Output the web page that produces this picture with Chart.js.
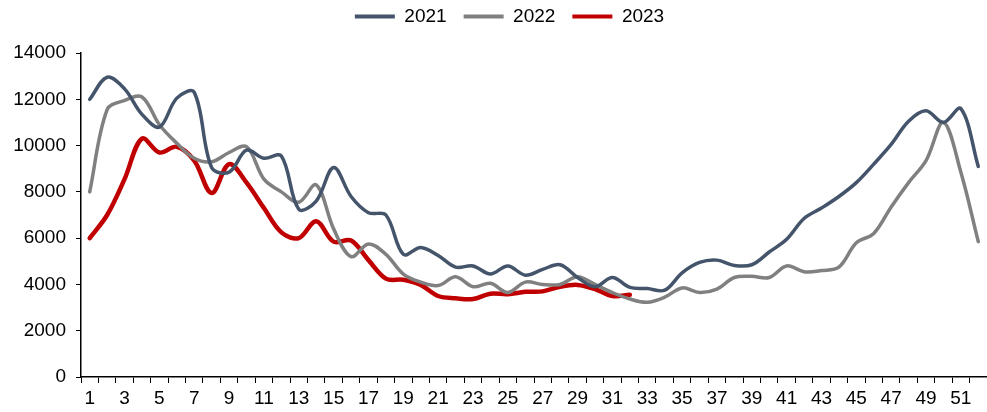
<!DOCTYPE html>
<html>
<head>
<meta charset="utf-8">
<script src="https://cdn.jsdelivr.net/npm/chart.js@4"></script>
<style>
  html, body { margin: 0; padding: 0; background: #fff; }
  #wrap { width: 987px; height: 412px; }
</style>
</head>
<body>
<div id="wrap"><canvas id="line-chart" width="987" height="412"></canvas></div>
<script>
// weeks 1..52
const weeks = Array.from({ length: 52 }, (_, i) => String(i + 1));

const values2021 = [
  12000, 12950, 12450, 11350, 10800, 12050, 12300, 9050, 8850, 9800,
  9450, 9550, 7250, 7600, 9050, 7800, 7100, 7000, 5300, 5600,
  5250, 4750, 4800, 4450, 4800, 4400, 4650, 4850, 4300, 3900,
  4300, 3870, 3820, 3750, 4500, 4950, 5050, 4820, 4850, 5400,
  5950, 6850, 7300, 7800, 8400, 9200, 10050, 11050, 11500, 11000,
  11600, 9100
];

const values2022 = [
  8000, 11550, 11950, 12100, 10900, 10100, 9450, 9300, 9700, 9950,
  8550, 8000, 7550, 8300, 6400, 5200, 5750, 5300, 4450, 4100,
  3950, 4330, 3900, 4050, 3650, 4100, 4000, 4000, 4330, 4000,
  3650, 3370, 3230, 3450, 3850, 3650, 3800, 4300, 4350, 4300,
  4800, 4550, 4600, 4750, 5800, 6200, 7350, 8400, 9350, 11000,
  8850, 5850
];

const values2023 = [
  6000, 7000, 8550, 10300, 9700, 9950, 9350, 7950, 9200, 8400,
  7300, 6250, 6000, 6730, 5850, 5900, 5050, 4250, 4200, 3980,
  3500, 3400, 3370, 3600, 3580, 3680, 3700, 3900, 3980, 3800,
  3500, 3550
];

const yTicks = [0, 2000, 4000, 6000, 8000, 10000, 12000, 14000];

const font = { family: 'Arial, "Liberation Sans", sans-serif', size: 19 };

// extra room under the legend, and nudge it a bit to the right
const legendGap = {
  id: 'legendGap',
  beforeInit(chart) {
    const fit = chart.legend.fit;
    chart.legend.fit = function () {
      fit.bind(chart.legend)();
      this.height += 17;
    };
  },
  afterLayout(chart) {
    chart.legend.left += 16;
    chart.legend.right += 16;
  }
};

const ctx = document.getElementById('line-chart').getContext('2d');

new Chart(ctx, {
  type: 'line',
  data: {
    labels: weeks,
    datasets: [
      { label: '2021', data: values2021, borderColor: '#44546A', backgroundColor: '#44546A', borderWidth: 3.5 },
      { label: '2022', data: values2022, borderColor: '#808080', backgroundColor: '#808080', borderWidth: 3.5 },
      { label: '2023', data: values2023, borderColor: '#C00000', backgroundColor: '#C00000', borderWidth: 4.5 }
    ]
  },
  options: {
    responsive: false,
    animation: false,
    elements: {
      point: { radius: 0 },
      line: { tension: 0.35, borderCapStyle: 'round', borderJoinStyle: 'round' }
    },
    layout: { padding: { top: -10, right: 0, left: 0, bottom: 0 } },
    plugins: {
      legend: {
        position: 'top',
        labels: {
          color: '#000',
          font: font,
          boxWidth: 40,
          boxHeight: 4,
          padding: 17,
          generateLabels: chart => chart.data.datasets.map((ds, i) => ({
            text: ds.label,
            fillStyle: ds.borderColor,
            strokeStyle: ds.borderColor,
            lineWidth: 0,
            datasetIndex: i,
            hidden: false
          }))
        }
      },
      tooltip: { enabled: false }
    },
    scales: {
      x: {
        offset: true,
        grid: { offset: true, drawOnChartArea: false, color: '#000', tickLength: 6 },
        border: { color: '#000', width: 1.5 },
        ticks: {
          autoSkip: false,
          maxRotation: 0,
          color: '#000',
          font: font,
          padding: 4,
          callback: (val, i) => (i % 2 === 0 ? weeks[i] : '')
        },
        afterFit: scale => { scale.height = 35; }
      },
      y: {
        min: 0,
        max: 14000,
        afterBuildTicks: scale => { scale.ticks = yTicks.map(v => ({ value: v })); },
        grid: { drawOnChartArea: false, color: '#000', tickLength: 5 },
        border: { color: '#000', width: 1.5 },
        ticks: { color: '#000', font: font, padding: 10, callback: v => String(v) },
        afterFit: scale => { scale.width = 81; }
      }
    }
  },
  plugins: [legendGap]
});
</script>
</body>
</html>
